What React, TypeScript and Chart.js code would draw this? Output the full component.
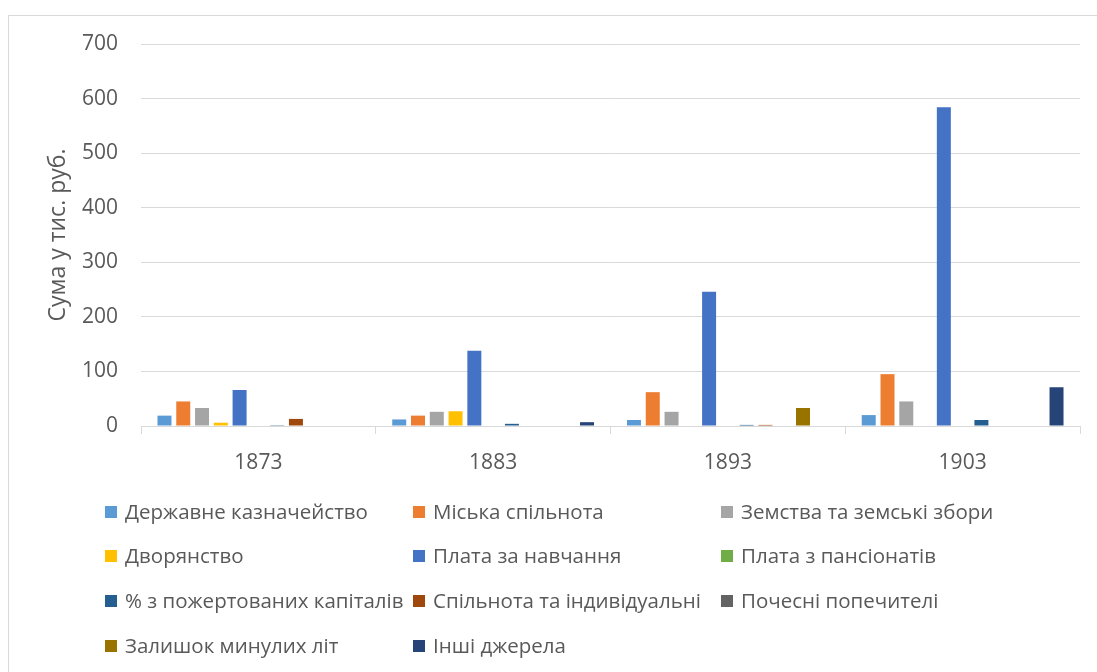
import React, { useEffect, useRef } from "react";
import { Chart, registerables } from "chart.js";

Chart.register(...registerables);

const categories = ["1873", "1883", "1893", "1903"];

const seriesNames = [
  "Державне казначейство",
  "Міська спільнота",
  "Земства та земські збори",
  "Дворянство",
  "Плата за навчання",
  "Плата з пансіонатів",
  "% з пожертованих капіталів",
  "Спільнота та індивідуальні",
  "Почесні попечителі",
  "Залишок минулих літ",
  "Інші джерела",
];

const derzhavne = [19, 12, 11, 20];
const miska = [45, 19, 62, 95];
const zemstva = [33, 26, 26, 45];
const dvoryanstvo = [6, 27, 0, 0];
const plataNavchannya = [66, 138, 246, 584];
const plataPansionaty = [0, 0, 0, 0];
const pozhertovani = [1.5, 4, 2, 11];
const spilnota = [13, 0, 2, 0];
const pochesni = [0, 0, 0, 0];
const zalyshok = [0, 0, 33, 0];
const inshi = [0, 7, 0, 71];

const seriesValues = [
  derzhavne,
  miska,
  zemstva,
  dvoryanstvo,
  plataNavchannya,
  plataPansionaty,
  pozhertovani,
  spilnota,
  pochesni,
  zalyshok,
  inshi,
];

const seriesColors = [
  "#5B9BD5",
  "#ED7D31",
  "#A5A5A5",
  "#FFC000",
  "#4472C4",
  "#70AD47",
  "#255E91",
  "#9E480E",
  "#636363",
  "#997300",
  "#264478",
];

const yTicks = [0, 100, 200, 300, 400, 500, 600, 700];

const TEXT = "#595959";
const GRID = "#d9d9d9";
const FONT = "'Open Sans', sans-serif";

const gridLegend = {
  id: "gridLegend",
  afterDraw(chart: any) {
    const ctx = chart.ctx;
    const colX = [105, 413, 721];
    const rowY = [512, 556, 601, 646];
    const box = 12;
    ctx.save();
    ctx.font = `20.5px ${FONT}`;
    ctx.textBaseline = "middle";
    ctx.textAlign = "left";
    chart.data.datasets.forEach((ds: any, i: number) => {
      const c = i % 3;
      const r = Math.floor(i / 3);
      const x = colX[c];
      const y = rowY[r];
      ctx.fillStyle = ds.backgroundColor;
      ctx.fillRect(x, y - box / 2, box, box);
      ctx.fillStyle = TEXT;
      ctx.fillText(ds.label, x + 20, y + 1);
    });
    ctx.restore();
  },
};

export default function App() {
  const ref = useRef<HTMLCanvasElement>(null);

  useEffect(() => {
    if (!ref.current) return;
    const chart = new Chart(ref.current, {
      type: "bar",
      data: {
        labels: categories,
        datasets: seriesNames.map((name, i) => ({
          label: name,
          data: seriesValues[i],
          backgroundColor: seriesColors[i],
          borderWidth: 0,
          categoryPercentage: 0.88,
          barPercentage: 0.745,
        })),
      },
      options: {
        animation: false,
        responsive: false,
        maintainAspectRatio: false,
        layout: { padding: { left: 20, top: 44, right: 17, bottom: 0 } },
        plugins: {
          legend: { display: false },
          tooltip: { enabled: false },
        },
        scales: {
          x: {
            grid: {
              offset: true,
              drawOnChartArea: false,
              drawTicks: true,
              tickLength: 8,
              color: GRID,
            },
            border: { color: GRID, width: 1 },
            ticks: {
              color: TEXT,
              font: { family: FONT, size: 21 },
              padding: 16,
            },
            afterFit(scale: any) {
              scale.height = 672 - 426;
            },
          },
          y: {
            min: 0,
            max: 700,
            afterBuildTicks(scale: any) {
              scale.ticks = yTicks.map((v) => ({ value: v }));
            },
            grid: { color: GRID, drawTicks: false, lineWidth: 1 },
            border: { display: false },
            ticks: {
              color: TEXT,
              font: { family: FONT, size: 21 },
              padding: 23,
            },
            title: {
              display: true,
              text: "Сума у тис. руб.",
              color: TEXT,
              font: { family: FONT, size: 23, weight: "normal" },
              padding: { top: 25, bottom: 0 },
            },
            afterFit(scale: any) {
              scale.width = 141 - 20;
            },
          },
        },
      },
      plugins: [gridLegend],
    });
    return () => chart.destroy();
  }, []);

  return (
    <>
      <div
        style={{
          position: "fixed",
          left: 8,
          top: 15,
          width: 1200,
          height: 800,
          border: `1px solid ${GRID}`,
          boxSizing: "border-box",
          background: "#fff",
        }}
      />
      <canvas
        ref={ref}
        width={1097}
        height={672}
        style={{ position: "fixed", left: 0, top: 0, width: 1097, height: 672 }}
      />
    </>
  );
}
